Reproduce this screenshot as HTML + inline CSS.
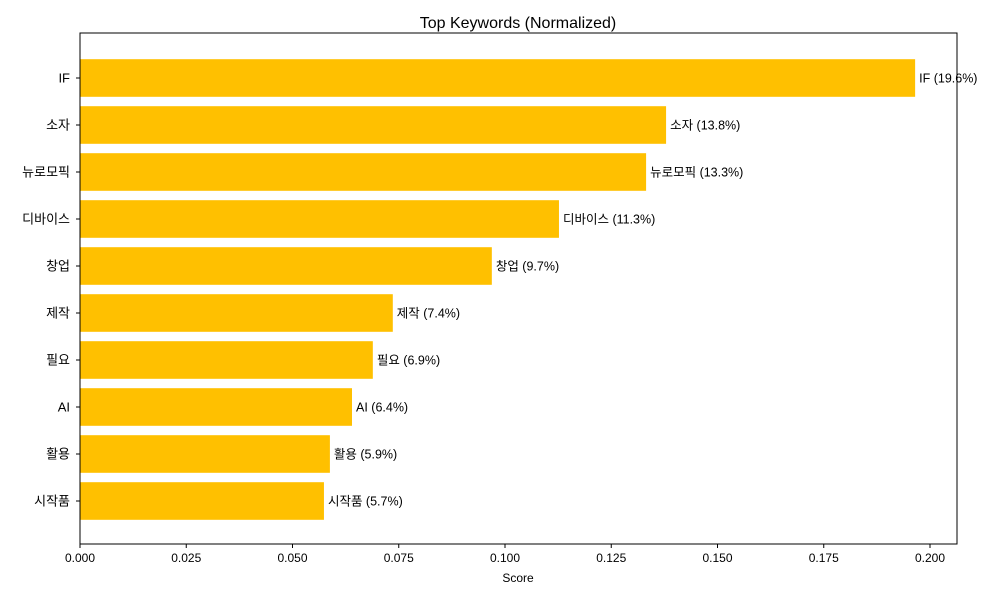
<!DOCTYPE html>
<html><head><meta charset="utf-8">
<style>
body{margin:0;background:#fff;font-family:"Liberation Sans","Noto Sans CJK KR",sans-serif;}
svg text{font-family:"Liberation Sans","Noto Sans CJK KR",sans-serif;fill:#000;}
</style></head><body>
<svg id="chart" width="1000" height="600">
<rect width="1000" height="600" fill="#fff"/>
<text x="518" y="28" font-size="16" text-anchor="middle">Top Keywords (Normalized)</text>
<g id="bars"></g>
<g id="axes"></g>
<rect x="80" y="33" width="877" height="511" fill="none" stroke="#000" stroke-width="1"/>
<text x="518" y="582" font-size="12" text-anchor="middle">Score</text>
</svg>
<script>
const categories=["IF","소자","뉴로모픽","디바이스","창업","제작","필요","AI","활용","시작품"];
const values=[0.1965,0.1379,0.1332,0.1127,0.0969,0.0736,0.0689,0.0640,0.0588,0.0574];
const percents=["19.6%","13.8%","13.3%","11.3%","9.7%","7.4%","6.9%","6.4%","5.9%","5.7%"];
const xTicks=[0,0.025,0.05,0.075,0.1,0.125,0.15,0.175,0.2];
const xTickLabels=["0.000","0.025","0.050","0.075","0.100","0.125","0.150","0.175","0.200"];
const NS="http://www.w3.org/2000/svg";
const x=v=>80+v*4250;
const y=i=>78+i*47;
const bars=document.getElementById('bars'),axes=document.getElementById('axes');
function mk(t,a,p){const e=document.createElementNS(NS,t);for(const k in a)e.setAttribute(k,a[k]);p.appendChild(e);return e;}
categories.forEach((c,i)=>{
 const r=mk('rect',{x:x(0),y:y(i)-18.8,width:x(values[i])-x(0),height:37.6,fill:'#FFC000'},bars);
 
 
 const l=mk('text',{x:x(values[i])+4,y:y(i)+4.5,'font-size':12.5},bars);
 l.textContent=c+' ('+percents[i]+')';
 
 
 mk('line',{x1:76,x2:80,y1:y(i),y2:y(i),stroke:'#000'},axes);
 const t=mk('text',{x:70,y:y(i)+4.5,'font-size':13,'text-anchor':'end'},axes);
 t.textContent=c;
 
 
});
xTicks.forEach((v,i)=>{
 mk('line',{x1:x(v),x2:x(v),y1:544,y2:548,stroke:'#000'},axes);
 const t=mk('text',{x:x(v),y:562,'font-size':12,'text-anchor':'middle'},axes);
 t.textContent=xTickLabels[i];
 
 
});
</script>
</body></html>
